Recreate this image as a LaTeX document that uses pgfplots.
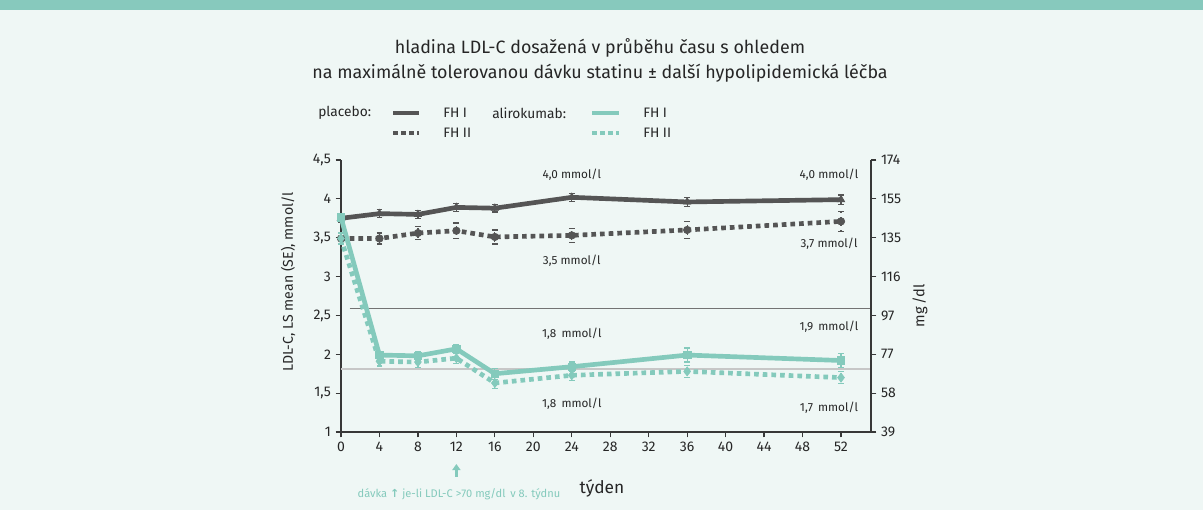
\documentclass[border=0pt]{standalone}
\usepackage{pgfplots}
\pgfplotsset{compat=1.18}
\usepackage{fontspec}
\setmainfont{Fira Sans}
\newfontfamily\dejavu{DejaVu Sans}
\usetikzlibrary{arrows.meta}
\definecolor{bg}{HTML}{EFF7F5}
\definecolor{band}{HTML}{87C9BD}
\definecolor{tealc}{HTML}{84CABC}
\definecolor{darkc}{HTML}{555555}
\definecolor{axisc}{HTML}{383838}
\begin{document}
\begin{tikzpicture}
\fill[bg] (0,0) rectangle (902.25pt,-382.5pt);
\fill[band] (0,0) rectangle (902.25pt,-7.5pt);
% title
\node[font=\fontsize{13.4}{16}\selectfont, text=black!85] at (450pt,-36pt) {hladina LDL-C dosažená v průběhu času s ohledem};
\node[font=\fontsize{13.4}{16}\selectfont, text=black!85] at (450pt,-54.75pt) {na maximálně tolerovanou dávku statinu ± další hypolipidemická léčba};
% legend
\begin{scope}[font=\fontsize{10.3}{12}\selectfont, text=black!85]
\node[anchor=west, inner sep=0pt] at (238.5pt,-84.75pt) {placebo:};
\draw[darkc, line width=3.5pt] (294.75pt,-84.75pt) -- (314.25pt,-84.75pt);
\node[anchor=west, inner sep=0pt] at (332.25pt,-84.75pt) {FH I};
\draw[darkc, line width=3.5pt, dash pattern=on 3.5pt off 2.5pt] (294.75pt,-99.75pt) -- (314.25pt,-99.75pt);
\node[anchor=west, inner sep=0pt] at (332.25pt,-99.75pt) {FH II};
\node[anchor=west, inner sep=0pt] at (369pt,-84.75pt) {alirokumab:};
\draw[tealc, line width=3.5pt] (444pt,-84.75pt) -- (464.25pt,-84.75pt);
\node[anchor=west, inner sep=0pt] at (482.25pt,-84.75pt) {FH I};
\draw[tealc, line width=3.5pt, dash pattern=on 3.5pt off 2.5pt] (444pt,-99.75pt) -- (464.25pt,-99.75pt);
\node[anchor=west, inner sep=0pt] at (482.25pt,-99.75pt) {FH II};
\end{scope}
% axis labels
\node[rotate=90, font=\fontsize{10.6}{13}\selectfont, text=black!85] at (216pt,-211.5pt) {LDL-C, LS mean (SE), mmol/l};
\node[rotate=90, font=\fontsize{11}{13}\selectfont, text=black!85] at (690pt,-229.5pt) {mg\,/dl};
\node[font=\fontsize{13}{15}\selectfont, text=black!85] at (451.5pt,-366pt) {týden};
\node[font=\fontsize{8.3}{10}\selectfont, text=tealc] at (344.25pt,-370.5pt) {dávka {\dejavu\bfseries ↑} je-li LDL-C >70 mg/dl\, v 8. týdnu};
\draw[tealc, line width=1.8pt, -{Triangle[length=4.5pt,width=6pt]}] (342.3pt,-357.5pt) -- (342.3pt,-348pt);

\begin{axis}[
  at={(255.75pt,-324pt)}, anchor=south west, scale only axis,
  width=397.5pt, height=204pt,
  xmin=0, xmax=55.12, ymin=1, ymax=4.5,
  axis x line*=bottom, axis y line*=left,
  axis line style={line width=1.1pt, color=axisc, -},
  xtick={0,4,...,52}, ytick={1,1.5,2,2.5,3,3.5,4,4.5},
  yticklabels={1,{1,5},2,{2,5},3,{3,5},4,{4,5}},
  tick style={line width=0.9pt, color=axisc}, tick align=outside, major tick length=4pt,
  /pgf/number format/assume math mode=true,
  ticklabel style={font=\fontsize{10.5}{12}\selectfont, text=black!85},
  clip=false,
  error bars/error bar style={line width=0.9pt},
  error bars/error mark options={rotate=90, mark size=2.2pt, line width=0.9pt},
]
% reference lines
\addplot[color=black!55, line width=1.1pt, forget plot] coordinates {(0.9,2.59) (55.12,2.59)};
\addplot[color=black!22, line width=0.9pt, forget plot] coordinates {(0,1.81) (55.12,1.81)};
% placebo FH I
\addplot[color=darkc, line width=3.5pt, mark=triangle*, mark size=3.2pt, mark options={solid, line width=0.5pt},
  error bars/.cd, y dir=both, y explicit] coordinates {
  (0,3.75) +- (0,0.05) (4,3.81) +- (0,0.05) (8,3.80) +- (0,0.05) (12,3.89) +- (0,0.05)
  (16,3.88) +- (0,0.05) (24,4.02) +- (0,0.05) (36,3.96) +- (0,0.06) (52,3.99) +- (0,0.06)};
% placebo FH II
\addplot[color=darkc, line width=3.5pt, dash pattern=on 3.5pt off 3pt, mark=*, mark size=2.8pt, mark options={solid, line width=0.5pt},
  error bars/.cd, y dir=both, y explicit] coordinates {
  (0,3.49) +- (0,0.08) (4,3.49) +- (0,0.07) (8,3.56) +- (0,0.08) (12,3.59) +- (0,0.10)
  (16,3.51) +- (0,0.09) (24,3.53) +- (0,0.09) (36,3.60) +- (0,0.11) (52,3.71) +- (0,0.13)};
% alirocumab FH II
\addplot[color=tealc, line width=3.5pt, dash pattern=on 3.5pt off 3pt, mark=diamond*, mark size=3.4pt, mark options={solid, line width=0.5pt},
  error bars/.cd, y dir=both, y explicit] coordinates {
  (0,3.49) +- (0,0.07) (4,1.91) +- (0,0.06) (8,1.90) +- (0,0.07) (12,1.95) +- (0,0.07)
  (16,1.63) +- (0,0.07) (24,1.73) +- (0,0.07) (36,1.78) +- (0,0.08) (52,1.70) +- (0,0.08)};
% alirocumab FH I
\addplot[color=tealc, line width=3.5pt, mark=square*, mark size=2.8pt, mark options={solid, line width=0.5pt},
  error bars/.cd, y dir=both, y explicit] coordinates {
  (0,3.76) +- (0,0.05) (4,1.99) +- (0,0.05) (8,1.98) +- (0,0.06) (12,2.07) +- (0,0.06)
  (16,1.75) +- (0,0.07) (24,1.84) +- (0,0.06) (36,1.99) +- (0,0.09) (52,1.92) +- (0,0.09)};
% value annotations
\begin{scope}[every node/.style={font=\fontsize{8.8}{10}\selectfont, text=black!85}]
\node at (axis cs:24,4.31) {4,0 mmol/l};
\node at (axis cs:50.75,4.31) {4,0 mmol/l};
\node at (axis cs:24,3.21) {3,5 mmol/l};
\node at (axis cs:50.75,3.42) {3,7 mmol/l};
\node at (axis cs:24,2.27) {1,8\, mmol/l};
\node at (axis cs:50.75,2.35) {1,9\, mmol/l};
\node at (axis cs:24,1.37) {1,8\, mmol/l};
\node at (axis cs:50.75,1.31) {1,7\, mmol/l};
\end{scope}
\end{axis}

\begin{axis}[
  at={(255.75pt,-324pt)}, anchor=south west, scale only axis,
  width=397.5pt, height=204pt,
  xmin=0, xmax=55.12, ymin=1, ymax=4.5,
  axis x line=none, axis y line*=right,
  axis line style={line width=1.1pt, color=axisc, -},
  ytick={1,1.5,2,2.5,3,3.5,4,4.5},
  yticklabels={39,58,77,97,116,135,155,174},
  tick style={line width=0.9pt, color=axisc}, tick align=outside, major tick length=4pt,
  ticklabel style={font=\fontsize{10.5}{12}\selectfont, text=black!85},
]
\end{axis}
\end{tikzpicture}
\end{document}
